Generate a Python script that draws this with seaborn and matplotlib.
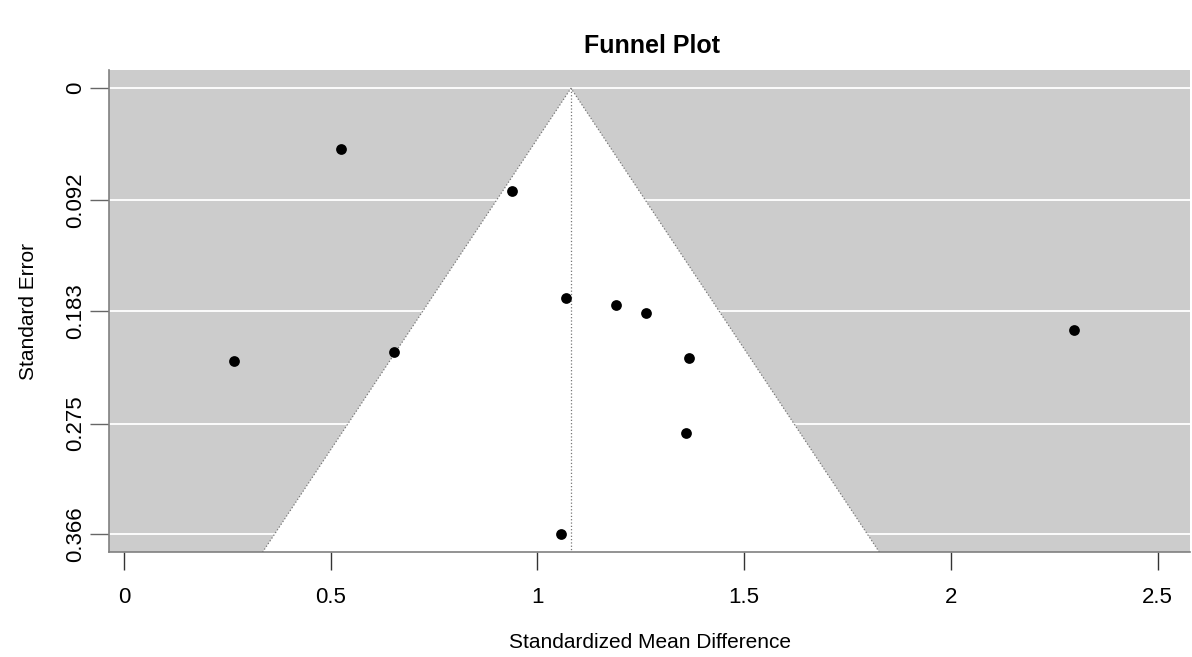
import matplotlib
matplotlib.use("Agg")
import matplotlib.pyplot as plt
import numpy as np
import pandas as pd
import seaborn as sns

# effect sizes (standardized mean difference) and their standard errors
smd = [0.525, 0.938, 1.069, 1.190, 1.262, 2.298, 1.366, 0.652, 0.265, 1.359, 1.058]
se = [0.050, 0.084, 0.172, 0.178, 0.184, 0.198, 0.221, 0.216, 0.224, 0.283, 0.366]
pooled = 1.081
y_ticks = [0, 0.092, 0.183, 0.275, 0.366]
y_tick_labels = ["0", "0.092", "0.183", "0.275", "0.366"]
x_ticks = [0, 0.5, 1, 1.5, 2, 2.5]
x_tick_labels = ["0", "0.5", "1", "1.5", "2", "2.5"]

df = pd.DataFrame({"smd": smd, "se": se})

sns.set_theme(style="white")
plt.rcParams["font.family"] = ["Liberation Sans", "DejaVu Sans"]
plt.rcParams["text.color"] = "black"
plt.rcParams["axes.labelcolor"] = "black"
plt.rcParams["xtick.labelcolor"] = "black"
plt.rcParams["ytick.labelcolor"] = "black"

fig = plt.figure(figsize=(11.92, 6.57), dpi=100)
ax = fig.add_axes([0.0917, 0.1594, 0.9066, 0.7341])

xlim = (-0.0355, 2.578)
ylim = (0.3806, -0.015)
ax.set_xlim(*xlim)
ax.set_ylim(*ylim)
ax.set_facecolor("#cccccc")

# white gridlines at the y ticks
for t in y_ticks:
    ax.axhline(t, color="white", lw=1.3, zorder=1)

# funnel region (pseudo 95% limits)
se_bot = ylim[0]
fx = [pooled - 1.96 * se_bot, pooled, pooled + 1.96 * se_bot]
fy = [se_bot, 0, se_bot]
ax.fill(fx, fy, color="white", zorder=2, lw=0)
ax.plot(fx, fy, color="#777777", ls=":", lw=0.9, zorder=3)
ax.plot([pooled, pooled], [0, se_bot], color="#777777", ls=":", lw=0.9, zorder=3)

sns.scatterplot(data=df, x="smd", y="se", ax=ax, color="black", s=60,
                edgecolor="black", linewidth=0, zorder=4, legend=False)

ax.set_xticks(x_ticks)
ax.set_xticklabels(x_tick_labels, fontsize=16)
ax.set_yticks(y_ticks)
ax.set_yticklabels(y_tick_labels, fontsize=16, rotation=90, va="center")
ax.tick_params(axis="x", direction="out", length=13, width=1, color="#333333",
               pad=12, bottom=True)
ax.tick_params(axis="y", direction="out", length=14, width=1, color="#666666",
               pad=3, left=True)

for side in ["top", "right"]:
    ax.spines[side].set_visible(False)
for side in ["left", "bottom"]:
    ax.spines[side].set_color("#808080")
    ax.spines[side].set_linewidth(1.2)

ax.set_xlabel("Standardized Mean Difference", fontsize=15)
ax.set_ylabel("Standard Error", fontsize=15)
ax.xaxis.set_label_coords(0.5, -0.167)
ax.yaxis.set_label_coords(-0.066, 0.5)

fig.text(0.547, 0.930, "Funnel Plot", ha="center", va="center",
         fontsize=18, fontweight="bold")

fig.savefig("out.png", dpi=100)
